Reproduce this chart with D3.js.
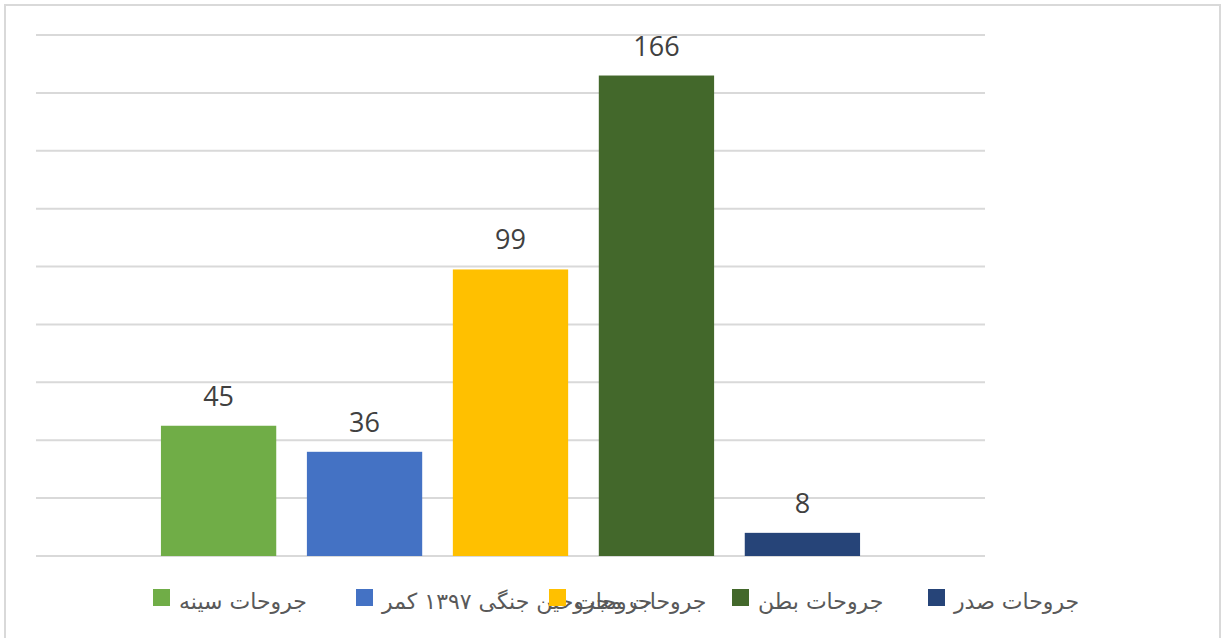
<!DOCTYPE html>
<html>
<head>
<meta charset="utf-8">
<script src="https://cdn.jsdelivr.net/npm/d3@7"></script>
<style>
  body { margin: 0; background: #fff; }
  svg { display: block; }
</style>
</head>
<body>
<svg id="chart"></svg>
<script>
// data
const seriesNames = [
  "جروحات سینه",
  "جروحات مجروحین جنگی ۱۳۹۷ کمر",
  "جروحات",
  "جروحات بطن",
  "جروحات صدر"
];
const seriesValues = [45, 36, 99, 166, 8];
const seriesColors = ["#70ad47", "#4472c4", "#ffc000", "#43682b", "#264478"];
const yTicks = [0, 20, 40, 60, 80, 100, 120, 140, 160, 180];

const W = 1224, H = 638;
const plot = { left: 36, right: 985, top: 35, bottom: 556 };
// legend entry left edges (Excel layout, text overlaps in the original)
const legendX = [153, 356, 549, 732, 928];

const svg = d3.select("#chart").attr("width", W).attr("height", H);

svg.append("rect")
  .attr("x", 5).attr("y", 5)
  .attr("width", 1215).attr("height", 640)
  .attr("fill", "#fff")
  .attr("stroke", "#d9d9d9")
  .attr("stroke-width", 2);

const y = d3.scaleLinear().domain([0, 180]).range([plot.bottom, plot.top]);

// one category, five series side by side
const x = d3.scaleBand()
  .domain(seriesNames)
  .range([plot.left, plot.right])
  .paddingInner(0.21)
  .paddingOuter(0.856);

// gridlines
svg.append("g")
  .selectAll("line")
  .data(yTicks)
  .enter()
  .append("line")
  .attr("x1", plot.left)
  .attr("x2", plot.right)
  .attr("y1", (d) => y(d))
  .attr("y2", (d) => y(d))
  .attr("stroke", "#d9d9d9")
  .attr("stroke-width", 2);

const bars = seriesNames.map((name, i) => ({ name, value: seriesValues[i], color: seriesColors[i] }));

svg.append("g")
  .selectAll("rect")
  .data(bars)
  .enter()
  .append("rect")
  .attr("x", (d) => x(d.name))
  .attr("y", (d) => y(d.value))
  .attr("width", x.bandwidth())
  .attr("height", (d) => y(0) - y(d.value))
  .attr("fill", (d) => d.color);

// value labels
svg.append("g")
  .selectAll("text")
  .data(bars)
  .enter()
  .append("text")
  .attr("x", (d) => x(d.name) + x.bandwidth() / 2)
  .attr("y", (d) => y(d.value) - 20)
  .attr("text-anchor", "middle")
  .attr("font-family", "'Open Sans', 'Noto Sans', sans-serif")
  .attr("font-size", "27px")
  .attr("fill", "#404040")
  .text((d) => d.value);

// legend
const legend = svg.append("g")
  .selectAll("g")
  .data(bars)
  .enter()
  .append("g")
  .attr("transform", (d, i) => `translate(${legendX[i]}, 0)`);

legend.append("rect")
  .attr("x", 0)
  .attr("y", 589)
  .attr("width", 17)
  .attr("height", 17)
  .attr("fill", (d) => d.color);

legend.append("text")
  .attr("x", 26)
  .attr("y", 609)
  .attr("font-family", "'DejaVu Sans', sans-serif")
  .attr("font-size", "22px")
  .attr("fill", "#595959")
  .text((d) => d.name);
</script>
</body>
</html>
